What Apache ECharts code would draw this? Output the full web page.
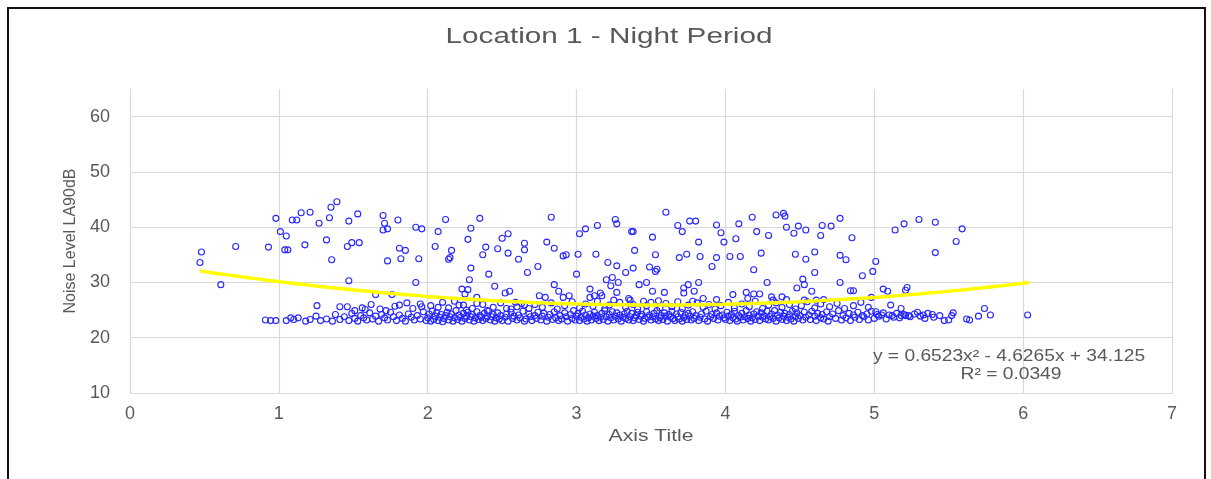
<!DOCTYPE html>
<html>
<head>
<meta charset="utf-8">
<title>Location 1 - Night Period</title>
<script src="https://cdn.jsdelivr.net/npm/echarts@6/dist/echarts.min.js"></script>
<style>
  html, body { margin: 0; padding: 0; background: #ffffff; }
  #chart { width: 1211px; height: 479px; }
</style>
</head>
<body>
<div id="chart"></div>
<script>
// Chart text
const chartTitle = 'Location 1 - Night Period';
const xAxisTitle = 'Axis Title';
const yAxisTitle = 'Noise Level LA90dB';
const equationLines = ['y = 0.6523x\u00B2 - 4.6265x + 34.125', 'R\u00B2 = 0.0349'];

// Axis ranges and ticks
const xTicks = [0, 1, 2, 3, 4, 5, 6, 7];
const yTicks = [10, 20, 30, 40, 50, 60];
const yAxisMax = 65;

// Polynomial trendline (order 2): [a, b, c] for a*x^2 + b*x + c, and its x range
const trendCoef = [0.6523, -4.6265, 34.125];
const trendRange = [0.47, 6.04];

// Measurements: scattered readings above the main cluster [x, LA90 dB]
const scatterUpper = [
  [0.47,33.6],[0.48,35.5],[0.61,29.6],[0.71,36.5],[0.93,36.4],[0.98,41.6],[1.01,39.2],[1.05,38.4],
  [1.04,35.9],[1.06,35.9],[1.09,41.3],[1.12,41.3],[1.15,42.6],[1.21,42.7],[1.27,40.7],[1.34,41.7],
  [1.35,43.6],[1.39,44.6],[1.47,41.1],[1.175,36.8],[1.32,37.7],[1.355,34.1],[1.46,36.5],[1.47,30.3],
  [1.53,42.4],[1.70,42.1],[1.71,40.7],[1.70,39.5],[1.73,39.7],[1.80,41.3],[1.92,40.0],[1.96,39.7],
  [2.07,39.2],[2.12,41.4],[2.29,39.8],[2.35,41.6],[2.27,37.8],[2.50,38.0],[2.54,38.8],[1.49,37.2],
  [1.54,37.2],[1.81,36.2],[1.85,35.8],[2.05,36.5],[2.16,35.8],[2.39,36.4],[2.47,36.1],[2.37,35.0],
  [2.54,35.3],[1.73,33.9],[1.82,34.3],[1.94,34.3],[2.14,34.2],[2.15,34.5],[2.29,32.6],[2.41,31.5],
  [2.28,30.5],[2.45,29.3],[1.92,30.0],[2.23,28.8],[2.27,28.7],[2.25,27.9],[2.52,28.1],[1.65,27.8],
  [1.76,27.8],[2.18,26.6],[2.21,25.9],[2.33,27.3],[2.33,26.2],[1.81,25.9],[1.95,26.1],[1.96,25.6],
  [2.07,25.5],[2.26,25.0],[2.40,24.9],[2.53,25.3],[1.58,25.1],[1.51,24.9],[1.72,24.9],
  [2.83,41.8],[2.65,37.1],[2.65,35.9],[2.61,34.2],[2.67,31.8],[2.74,32.9],[2.80,37.3],[2.85,36.2],
  [2.91,34.8],[2.93,35.0],[3.01,35.1],[3.02,38.8],[3.06,39.7],[3.14,40.3],[3.00,31.5],[3.13,35.1],
  [3.21,33.6],[3.26,41.4],[3.27,40.6],[3.27,33.0],[3.33,31.8],[3.37,39.2],[3.38,39.2],[3.39,35.8],
  [3.38,32.6],[3.51,38.2],[3.53,35.0],[3.49,32.8],[3.53,32.0],[3.54,32.4],[3.60,42.7],[3.20,30.5],
  [3.24,30.9],[3.23,29.4],[3.28,30.0],[3.42,29.6],[3.47,30.0],[2.85,29.6],[2.88,28.4],[3.09,28.8],
  [3.16,28.1],[3.27,28.2],[3.51,28.4],[3.59,28.2],[2.55,28.4],[2.75,27.6],[2.79,27.3],[2.91,27.3],
  [2.95,27.6],[3.09,27.3],[3.12,27.6],[3.17,27.6],[3.25,26.8],[3.35,27.1],[3.36,26.8],[3.45,26.6],
  [3.55,26.7],[2.59,26.4],[2.65,25.9],
  [3.68,40.3],[3.71,39.2],[3.76,41.1],[3.80,41.1],[3.94,40.4],[3.97,39.0],[4.09,40.6],[4.18,41.8],
  [4.21,39.2],[4.29,38.5],[4.34,42.2],[4.39,42.5],[4.40,42.0],[4.41,40.0],[4.46,38.9],[4.49,40.2],
  [4.54,39.5],[4.65,40.3],[4.64,38.5],[3.82,37.3],[3.99,37.3],[4.07,37.9],[3.69,34.5],[3.74,35.1],
  [3.83,34.7],[3.94,34.5],[4.03,34.7],[4.10,34.7],[4.24,35.3],[4.47,35.1],[4.54,34.2],[4.60,35.5],
  [3.91,32.9],[4.19,32.3],[4.60,31.8],[4.52,30.6],[4.28,30.0],[3.82,30.0],[3.75,29.6],[3.72,29.0],
  [3.79,28.4],[4.53,29.6],[4.48,29.0],[4.58,28.4],[4.05,27.8],[4.14,28.2],[4.19,27.9],[4.23,27.9],
  [4.15,27.1],[4.31,27.4],[4.32,26.8],[4.38,27.4],[4.41,26.9],[3.94,26.9],[3.85,27.1],[3.78,26.6],
  [3.72,28.1],[4.53,26.8],[4.61,26.8],[4.66,26.9],
  [4.71,40.2],[4.77,41.6],[4.85,38.1],[4.77,34.9],[4.81,34.1],[5.01,33.8],[4.99,32.0],[4.92,31.2],
  [4.77,30.0],[4.84,28.5],[4.86,28.5],[5.06,28.8],[5.09,28.4],[5.21,28.6],[5.22,29.1],[5.14,39.5],
  [5.20,40.6],[5.30,41.4],[5.41,40.9],[5.59,39.7],[5.55,37.4],[5.41,35.4],[4.98,27.3],[5.11,25.9],
  [5.18,25.3],[5.74,25.3],[1.256,25.8],[1.41,25.6],[1.46,25.6]
];

// Measurements: readings between 25 and 27 dB
const scatterMid = [
  [1.56,25.4],[1.62,26.0],[1.68,25.2],[1.78,25.7],[1.86,26.3],[1.90,25.3],[2.02,25.8],[2.10,26.4],
  [2.14,25.4],[2.24,25.9],[2.30,25.3],[2.37,26.0],[2.44,25.5],[2.49,26.3],[2.56,25.2],
  [2.60,25.6],[2.63,26.2],[2.68,25.3],[2.72,26.0],[2.77,25.5],[2.83,26.3],[2.87,25.2],[2.92,25.8],
  [2.97,26.5],[3.02,25.4],[3.06,26.1],[3.11,25.7],[3.14,26.6],[3.19,25.3],[3.22,25.9],[3.29,26.4],
  [3.33,25.5],[3.38,26.0],[3.41,25.2],[3.47,25.8],[3.50,26.4],[3.56,25.4],[3.60,26.2],[3.64,25.6],
  [3.68,26.5],[3.71,25.3],[3.75,25.9],[3.81,26.3],[3.85,25.5],[3.89,26.0],[3.93,25.2],[3.97,25.8],
  [4.02,26.4],[4.06,25.4],[4.11,26.1],[4.16,25.6],[4.20,26.6],[4.25,25.3],[4.29,25.9],[4.34,26.3],
  [4.38,25.5],[4.43,26.0],[4.47,25.2],[4.51,25.8],[4.55,26.5],[4.60,25.4],[4.64,26.1],[4.70,25.6],
  [4.75,26.2],[4.80,25.3],[4.86,25.8],[4.91,26.4],[4.96,25.5]
];

// Measurements: the dense cluster near the background floor (about 23-25 dB)
const scatterFloor = [
  [0.91,23.2],[0.945,23.1],[0.98,23.1],[1.05,23.1],[1.08,23.6],
  [1.10,23.3],[1.13,23.6],[1.18,23.0],[1.21,23.3],[1.25,23.9],[1.28,23.1],[1.32,23.4],[1.36,23.0],
  [1.38,24.2],[1.41,23.3],[1.44,23.8],[1.47,23.1],[1.49,24.4],[1.51,23.5],[1.53,23.0],[1.55,24.0],
  [1.57,23.6],[1.59,23.2],[1.61,24.5],[1.63,23.4],[1.65,23.9],[1.67,23.0],[1.69,24.2],[1.71,23.6],
  [1.73,23.2],[1.75,24.6],[1.77,23.8],[1.79,23.1],[1.81,24.1],[1.83,23.5],[1.85,23.0],[1.87,24.3],
  [1.89,23.7],[1.91,23.2],[1.93,24.0],[1.95,23.4],[1.97,24.7],[1.99,23.1],
  [2.00,23.6],[2.01,24.3],[2.02,23.0],[2.03,24.8],[2.04,23.3],[2.05,23.9],[2.06,24.5],[2.07,23.1],
  [2.08,23.7],[2.09,24.2],[2.10,22.9],[2.11,23.5],[2.12,24.0],[2.13,24.6],[2.14,23.2],[2.15,23.8],
  [2.16,24.3],[2.17,23.0],[2.18,23.6],[2.19,24.9],[2.20,23.3],[2.21,24.1],[2.22,23.7],[2.23,23.0],
  [2.24,24.4],[2.25,23.5],[2.26,23.9],[2.27,24.6],[2.28,23.2],[2.29,23.8],[2.30,24.2],[2.31,23.0],
  [2.32,23.6],[2.33,24.7],[2.34,23.3],[2.35,24.0],[2.36,23.7],[2.37,23.1],[2.38,24.4],[2.39,23.5],
  [2.40,23.9],[2.41,24.8],[2.42,23.2],[2.43,23.8],[2.44,24.2],[2.45,23.0],[2.46,23.6],[2.47,24.5],
  [2.48,23.4],[2.49,24.0],[2.50,23.1],[2.52,23.7],[2.53,24.3],[2.54,23.0],[2.56,24.6],[2.57,23.5],
  [2.58,23.9],[2.60,23.2],[2.61,24.1],[2.62,23.6],[2.64,24.8],[2.65,23.0],[2.66,23.4],[2.68,24.3],
  [2.69,23.8],[2.70,23.1],[2.72,24.0],[2.73,23.5],[2.74,24.6],[2.76,23.2],[2.77,23.9],[2.78,24.4],
  [2.80,23.0],[2.81,23.7],[2.82,24.2],[2.84,23.3],[2.85,24.7],[2.86,23.6],[2.88,23.1],[2.89,24.0],
  [2.90,23.4],[2.92,24.5],[2.93,23.8],[2.94,23.0],[2.96,24.2],[2.97,23.5],[2.98,24.9],[2.99,23.2],
  [3.00,23.9],[3.01,24.4],[3.02,23.1],[3.03,23.7],[3.04,24.8],[3.05,23.4],[3.06,24.1],[3.07,23.0],
  [3.08,23.6],[3.09,24.3],[3.10,23.2],[3.11,23.9],[3.12,24.6],[3.13,23.5],[3.14,24.0],[3.15,23.1],
  [3.16,23.7],[3.17,24.4],[3.18,23.3],[3.19,24.9],[3.20,23.8],[3.21,23.0],[3.22,24.2],[3.23,23.6],
  [3.24,24.7],[3.25,23.2],[3.26,23.9],[3.27,24.5],[3.28,23.4],[3.29,24.1],[3.30,23.0],[3.31,23.7],
  [3.32,24.3],[3.33,23.5],[3.34,24.8],[3.35,23.2],[3.36,23.8],[3.37,24.4],[3.38,23.1],[3.39,23.6],
  [3.40,24.0],[3.41,24.6],[3.42,23.3],[3.43,23.9],[3.44,24.2],[3.45,23.0],[3.46,23.5],[3.47,24.7],
  [3.48,23.7],[3.49,24.1],[3.50,23.2],[3.51,23.8],[3.52,24.4],[3.53,23.4],[3.54,24.9],[3.55,23.1],
  [3.56,23.6],[3.57,24.0],[3.58,23.3],[3.59,24.5],[3.60,23.9],[3.61,23.0],[3.62,24.2],[3.63,23.7],
  [3.64,24.8],[3.65,23.5],[3.66,23.1],[3.67,24.3],[3.68,23.8],[3.69,23.4],[3.70,24.6],[3.71,23.0],
  [3.72,23.6],[3.73,24.1],[3.74,23.3],[3.75,24.4],[3.76,23.9],[3.77,23.2],[3.78,24.7],[3.79,23.5],
  [3.80,24.0],[3.82,23.1],[3.83,23.7],[3.84,24.3],[3.86,23.4],[3.87,24.8],[3.88,23.0],[3.90,23.8],
  [3.91,24.2],[3.92,23.5],[3.94,24.5],[3.95,23.2],[3.96,23.9],[3.98,24.1],[3.99,23.6],
  [4.00,23.3],[4.01,24.6],[4.02,23.9],[4.03,23.1],[4.04,24.2],[4.05,23.6],[4.06,24.8],[4.07,23.4],
  [4.08,23.0],[4.09,24.0],[4.10,23.7],[4.11,24.4],[4.12,23.2],[4.13,23.8],[4.14,24.9],[4.15,23.5],
  [4.16,24.1],[4.17,23.0],[4.18,23.6],[4.19,24.3],[4.20,23.3],[4.21,24.7],[4.22,23.9],[4.23,23.1],
  [4.24,24.5],[4.25,23.7],[4.26,24.0],[4.27,23.4],[4.28,24.8],[4.29,23.2],[4.30,23.8],[4.31,24.3],
  [4.32,23.5],[4.33,24.9],[4.34,23.0],[4.35,24.1],[4.36,23.6],[4.37,24.6],[4.38,23.3],[4.39,23.9],
  [4.40,24.4],[4.41,23.1],[4.42,23.7],[4.43,24.2],[4.44,23.4],[4.45,24.8],[4.46,23.0],[4.47,23.8],
  [4.48,24.5],[4.49,23.5],[4.50,24.0],[4.52,23.2],[4.53,24.6],[4.54,23.7],[4.56,24.1],[4.57,23.3],
  [4.58,24.8],[4.60,23.9],[4.61,23.1],[4.62,24.4],[4.64,23.6],[4.65,24.2],[4.66,23.4],[4.68,24.7],
  [4.69,23.0],[4.70,23.8],[4.72,24.3],[4.74,23.5],[4.76,24.9],[4.78,23.2],[4.79,24.0],
  [4.81,23.6],[4.83,24.4],[4.84,23.1],[4.86,24.1],[4.87,23.7],[4.89,24.6],[4.90,23.3],[4.92,24.0],
  [4.93,23.8],[4.95,24.3],[4.96,23.2],[4.98,24.8],[5.00,23.5],[5.01,24.7],[5.02,24.2],[5.03,23.9],
  [5.05,24.1],[5.06,24.5],[5.08,23.4],[5.10,24.1],[5.12,24.0],[5.13,23.7],[5.15,24.4],[5.17,23.6],
  [5.18,24.0],[5.20,24.2],[5.21,24.0],[5.23,24.0],[5.24,23.8],[5.27,24.3],[5.29,24.6],[5.31,23.9],
  [5.33,24.1],[5.34,23.5],[5.36,24.4],[5.39,24.2],[5.40,23.7],[5.44,24.0],[5.47,23.1],[5.50,23.2],
  [5.52,24.0],[5.53,24.5],[5.62,23.4],[5.64,23.2],[5.70,23.9],[5.78,24.1],[6.03,24.1]
];

// Trendline points sampled from the fitted quadratic
const trendSteps = 60;
const trendData = [];
for (let i = 0; i <= trendSteps; i++) {
  const x = trendRange[0] + (trendRange[1] - trendRange[0]) * i / trendSteps;
  trendData.push([x, trendCoef[0] * x * x + trendCoef[1] * x + trendCoef[2]]);
}

const textColor = '#595959';
const gridColor = '#d9d9d9';
const fontFamily = '"Liberation Sans", Arial, sans-serif';

const chart = echarts.init(document.getElementById('chart'), null, { renderer: 'canvas' });

const pointStyle = {
  type: 'scatter',
  symbol: 'circle',
  symbolSize: 6,
  itemStyle: { color: 'rgba(255,255,255,0)', borderColor: '#2626ff', borderWidth: 1.1, opacity: 1 },
  emphasis: { disabled: true },
  silent: true,
  z: 3
};

// Split-line colours: one per y tick, the top edge of the range stays unlined
const ySplitColors = yTicks.map(() => gridColor).concat(['rgba(0,0,0,0)']);

// Wide-set text drawn as graphic elements (stretched horizontally)
function wideText(text, x, y, size, stretch) {
  return {
    type: 'text',
    x: x,
    y: y,
    scaleX: stretch,
    scaleY: 1,
    style: {
      text: text,
      fill: textColor,
      font: size + 'px ' + fontFamily,
      textAlign: 'center',
      textVerticalAlign: 'middle'
    },
    silent: true,
    z: 50
  };
}

chart.setOption({
  animation: false,
  backgroundColor: '#ffffff',
  textStyle: { fontFamily: fontFamily },
  grid: { left: 130, right: 39, top: 89, bottom: 86, containLabel: false },
  xAxis: {
    type: 'value',
    min: xTicks[0],
    max: xTicks[xTicks.length - 1],
    interval: 1,
    axisLine: { show: true, lineStyle: { color: gridColor, width: 1 } },
    axisTick: { show: false },
    axisLabel: { color: textColor, fontSize: 18, margin: 12, fontFamily: fontFamily },
    splitLine: { show: true, lineStyle: { color: gridColor, width: 1.2 } }
  },
  yAxis: {
    type: 'value',
    min: yTicks[0],
    max: yAxisMax,
    interval: 10,
    name: yAxisTitle,
    nameLocation: 'middle',
    nameGap: 48,
    nameTextStyle: { color: textColor, fontSize: 16, fontFamily: fontFamily },
    axisLine: { show: true, lineStyle: { color: gridColor, width: 1 } },
    axisTick: { show: false },
    axisLabel: { color: textColor, fontSize: 18, margin: 20, showMaxLabel: false, fontFamily: fontFamily },
    splitLine: { show: true, lineStyle: { color: ySplitColors, width: 1.2 } }
  },
  graphic: [
    {
      type: 'rect',
      shape: { x: 8, y: 8, width: 1197, height: 480 },
      style: { fill: 'none', stroke: '#111111', lineWidth: 2 },
      silent: true,
      z: 100
    },
    wideText(chartTitle, 609, 37, 22, 1.35),
    wideText(xAxisTitle, 651, 437, 16, 1.32),
    wideText(equationLines[0], 1009, 357, 16, 1.2),
    wideText(equationLines[1], 1011, 375, 16, 1.2)
  ],
  series: [
    Object.assign({ name: 'floor', data: scatterFloor }, pointStyle),
    Object.assign({ name: 'mid', data: scatterMid }, pointStyle),
    Object.assign({ name: 'upper', data: scatterUpper }, pointStyle),
    {
      name: 'trend',
      type: 'line',
      data: trendData,
      showSymbol: false,
      symbol: 'none',
      smooth: true,
      lineStyle: { color: '#ffff00', width: 3.5 },
      silent: true,
      z: 4
    }
  ]
});
</script>
</body>
</html>
